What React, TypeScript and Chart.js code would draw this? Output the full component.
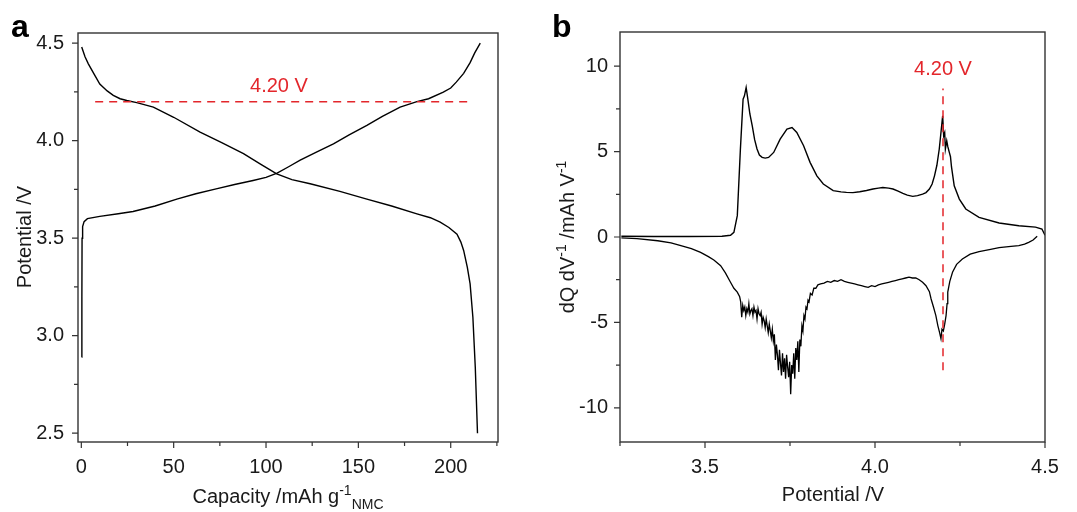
import React, { useEffect, useRef } from "react";
import { Chart, registerables } from "chart.js";
Chart.register(...registerables);

// ---------- Panel a: voltage profile ----------
const capCharge = [0.2, 0.3, 0.4, 0.7, 1.5, 3.3, 10, 20, 28, 40, 51.7, 62, 73, 83, 93, 100, 106, 112, 118.5, 127, 136.5, 145, 154.6, 163, 172.6, 181.7, 188, 196, 200, 203, 207, 210.5, 213, 216];
const vCharge = [2.89, 3.2, 3.5, 3.56, 3.585, 3.6, 3.612, 3.625, 3.637, 3.665, 3.7, 3.728, 3.753, 3.775, 3.796, 3.812, 3.833, 3.865, 3.9, 3.94, 3.984, 4.03, 4.078, 4.125, 4.172, 4.2, 4.215, 4.249, 4.27, 4.3, 4.345, 4.4, 4.45, 4.5];
const capDischarge = [0.2, 2, 3.8, 7, 10, 14, 17.3, 21, 24.6, 30, 39, 50, 64.3, 76, 87.8, 97, 105.8, 114, 123.9, 140, 154.6, 168, 181.7, 189, 194.3, 199, 203.4, 205.5, 207, 209, 210.5, 212, 213.3, 214.5];
const vDischarge = [4.48, 4.43, 4.394, 4.34, 4.29, 4.255, 4.232, 4.215, 4.206, 4.195, 4.172, 4.12, 4.044, 3.99, 3.933, 3.88, 3.83, 3.8, 3.779, 3.74, 3.7, 3.665, 3.625, 3.605, 3.582, 3.555, 3.52, 3.48, 3.437, 3.35, 3.266, 3.095, 2.838, 2.5];

// ---------- Panel b: dQ/dV ----------
const potCharge = [3.254, 3.35, 3.45, 3.55, 3.575, 3.585, 3.595, 3.604, 3.612, 3.616, 3.621, 3.626, 3.632, 3.639, 3.646, 3.653, 3.66, 3.668, 3.677, 3.687, 3.702, 3.721, 3.741, 3.756, 3.77, 3.79, 3.809, 3.829, 3.848, 3.877, 3.9, 3.916, 3.935, 3.955, 3.975, 3.994, 4.01, 4.023, 4.04, 4.053, 4.068, 4.082, 4.095, 4.111, 4.125, 4.14, 4.15, 4.16, 4.168, 4.175, 4.182, 4.189, 4.194, 4.199, 4.202, 4.205, 4.207, 4.211, 4.214, 4.218, 4.222, 4.225, 4.233, 4.248, 4.267, 4.306, 4.365, 4.423, 4.472, 4.491, 4.5];
const dqCharge = [0.04, 0.03, 0.03, 0.04, 0.1, 0.27, 1.25, 5.1, 8.07, 8.26, 8.75, 8.07, 7.2, 6.5, 5.7, 5.15, 4.8, 4.66, 4.62, 4.66, 4.95, 5.73, 6.32, 6.41, 6.12, 5.34, 4.37, 3.58, 3.1, 2.71, 2.64, 2.61, 2.6, 2.65, 2.72, 2.81, 2.86, 2.9, 2.86, 2.81, 2.68, 2.55, 2.45, 2.38, 2.42, 2.51, 2.6, 2.81, 3.1, 3.58, 4.2, 5.15, 6.12, 7.09, 5.92, 6.1, 5.15, 5.63, 5.3, 5.0, 4.7, 4.1, 3.0, 2.22, 1.64, 1.15, 0.82, 0.66, 0.58, 0.47, 0.1];
const potDischarge = [3.254, 3.3, 3.361, 3.4, 3.429, 3.46, 3.487, 3.51, 3.526, 3.546, 3.56, 3.575, 3.585, 3.595, 3.602,
  3.605, 3.608, 3.611, 3.614, 3.617, 3.62, 3.623, 3.626, 3.629, 3.632, 3.635, 3.638, 3.641, 3.644, 3.647, 3.65, 3.653, 3.656, 3.659, 3.662, 3.665, 3.668, 3.671, 3.674, 3.677, 3.68, 3.683, 3.686, 3.689, 3.692, 3.695, 3.698, 3.701, 3.704, 3.707, 3.71, 3.713, 3.716, 3.719, 3.722, 3.725, 3.728, 3.731, 3.734, 3.737, 3.74, 3.743, 3.746, 3.749, 3.752, 3.755, 3.758, 3.761, 3.764, 3.767, 3.77, 3.773, 3.776, 3.779, 3.782, 3.785, 3.788, 3.791, 3.794, 3.797, 3.8, 3.803, 3.806, 3.81, 3.815, 3.82, 3.826, 3.832, 3.84,
  3.85, 3.86, 3.87, 3.88, 3.89, 3.9, 3.91, 3.92, 3.93, 3.94, 3.95, 3.96, 3.97, 3.98, 3.99, 4.0, 4.01, 4.02, 4.03, 4.04, 4.05, 4.06, 4.07, 4.08, 4.09, 4.1, 4.11, 4.12, 4.13, 4.14, 4.15, 4.16, 4.165, 4.172, 4.179, 4.185, 4.19, 4.194, 4.197, 4.201, 4.205, 4.209, 4.212, 4.214, 4.22, 4.228, 4.24, 4.257, 4.28, 4.306, 4.34, 4.365, 4.4, 4.423, 4.44, 4.452, 4.465, 4.477];
const dqDischarge = [-0.05, -0.1, -0.22, -0.35, -0.51, -0.68, -0.9, -1.15, -1.35, -1.68, -2.1, -2.65, -3.0, -3.23, -3.5,
  -3.8, -4.7, -4.0, -4.3, -4.1, -4.6, -4.2, -4.4, -3.9, -4.5, -4.3, -4.2, -4.6, -4.1, -4.4, -4.3, -4.8, -4.2, -4.5, -4.6, -4.4, -5.1, -4.7, -4.9, -5.3, -4.8, -5.2, -5.6, -5.1, -5.5, -5.9, -5.4, -6.1, -5.7, -7.2, -6.3, -6.9, -7.8, -6.6, -7.4, -8.1, -6.8, -7.9, -7.1, -8.3, -6.9, -7.6, -8.2, -7.3, -9.2, -7.5, -8.0, -6.8, -8.3, -6.5, -7.2, -6.1, -7.9, -6.0, -6.4, -5.2, -5.5, -4.6, -4.8, -4.1, -4.2, -3.7, -3.8, -3.3, -3.4, -3.0, -3.0, -2.8, -2.75,
  -2.7, -2.6, -2.65, -2.55, -2.6, -2.5, -2.6, -2.65, -2.7, -2.75, -2.8, -2.85, -2.9, -2.95, -2.85, -2.9, -2.8, -2.75, -2.7, -2.65, -2.6, -2.55, -2.5, -2.45, -2.4, -2.35, -2.4, -2.4, -2.5, -2.65, -2.85, -3.2, -3.63, -4.1, -4.6, -5.2, -5.6, -5.96, -5.4, -5.5, -5.1, -4.6, -3.9, -3.23, -2.6, -2.06, -1.6, -1.29, -1.0, -0.85, -0.72, -0.62, -0.55, -0.5, -0.42, -0.31, -0.18, 0.04];

// ---------- ticks & annotations ----------
const aXTicks = [0, 50, 100, 150, 200];
const aXMinor = [25, 75, 125, 175, 225];
const aYTicks = [2.5, 3.0, 3.5, 4.0, 4.5];
const aYMinor = [2.75, 3.25, 3.75, 4.25];
const bXTicks = [3.5, 4.0, 4.5];
const bXMinor = [3.25, 3.75, 4.25];
const bYTicks = [-10, -5, 0, 5, 10];
const bYMinor = [-7.5, -2.5, 2.5, 7.5];
const cutoffV = 4.2;
const cutoffLabel = "4.20 V";
const aCutoffCap = [7.5, 210];
const bCutoffDq = [-7.8, 8.7];

const FONT = 'Arial, "Liberation Sans", sans-serif';
const RED = "#e3262b";
const FRAME = "#333333";
const TEXT = "#1a1a1a";

type Part = { t: string; s: number };

function drawRich(ctx: CanvasRenderingContext2D, parts: Part[], x: number, y: number, rot: number, size: number) {
  ctx.save();
  ctx.translate(x, y);
  ctx.rotate(rot);
  ctx.fillStyle = TEXT;
  ctx.textAlign = "left";
  ctx.textBaseline = "alphabetic";
  const fontFor = (p: Part) => `${p.s ? Math.round(size * 0.68) : size}px ${FONT}`;
  const widths = parts.map((p) => {
    ctx.font = fontFor(p);
    return ctx.measureText(p.t).width;
  });
  const total = widths.reduce((a, b) => a + b, 0);
  let cx = -total / 2;
  parts.forEach((p, i) => {
    ctx.font = fontFor(p);
    const dy = p.s === 1 ? -size * 0.42 : p.s === -1 ? size * 0.28 : 0;
    ctx.fillText(p.t, cx, dy);
    cx += widths[i];
  });
  ctx.restore();
}

type PanelCfg = {
  letter: string;
  letterX: number;
  xTicks: number[]; xMinor: number[]; yTicks: number[]; yMinor: number[];
  xTitle: Part[]; yTitle: Part[];
  xTitlePos: [number, number]; yTitlePos: [number, number];
  label: { x: number; y: number };
};

function panelPlugin(cfg: PanelCfg) {
  return {
    id: "panel" + cfg.letter,
    afterDraw(chart: any) {
      const ctx: CanvasRenderingContext2D = chart.ctx;
      const ca = chart.chartArea;
      const xs = chart.scales.x;
      const ys = chart.scales.y;
      ctx.save();
      ctx.strokeStyle = FRAME;
      ctx.lineWidth = 1.4;
      ctx.strokeRect(ca.left, ca.top, ca.right - ca.left, ca.bottom - ca.top);
      ctx.lineWidth = 1.2;
      ctx.beginPath();
      cfg.xTicks.forEach((v) => { const p = xs.getPixelForValue(v); ctx.moveTo(p, ca.bottom); ctx.lineTo(p, ca.bottom + 6); });
      cfg.xMinor.forEach((v) => { const p = xs.getPixelForValue(v); ctx.moveTo(p, ca.bottom); ctx.lineTo(p, ca.bottom + 4); });
      cfg.yTicks.forEach((v) => { const p = ys.getPixelForValue(v); ctx.moveTo(ca.left, p); ctx.lineTo(ca.left - 6, p); });
      cfg.yMinor.forEach((v) => { const p = ys.getPixelForValue(v); ctx.moveTo(ca.left, p); ctx.lineTo(ca.left - 4, p); });
      ctx.stroke();
      // panel letter
      ctx.fillStyle = "#000";
      ctx.font = `bold 32px ${FONT}`;
      ctx.textAlign = "left";
      ctx.textBaseline = "alphabetic";
      ctx.fillText(cfg.letter, cfg.letterX, 37);
      // annotation
      ctx.fillStyle = RED;
      ctx.font = `20px ${FONT}`;
      ctx.textAlign = "center";
      ctx.textBaseline = "middle";
      ctx.fillText(cutoffLabel, xs.getPixelForValue(cfg.label.x), ys.getPixelForValue(cfg.label.y));
      ctx.restore();
      drawRich(ctx, cfg.xTitle, cfg.xTitlePos[0], cfg.xTitlePos[1], 0, 20);
      drawRich(ctx, cfg.yTitle, cfg.yTitlePos[0], cfg.yTitlePos[1], -Math.PI / 2, 20);
    },
  };
}

function makeScale(min: number, max: number, ticks: number[], fmt: (v: number) => string, isY: boolean, size: number, pad: number) {
  return {
    type: "linear",
    min, max,
    grid: { display: false, drawTicks: false },
    border: { display: false },
    ticks: {
      font: { family: FONT, size: 20 },
      color: TEXT,
      padding: pad,
      autoSkip: false,
      maxRotation: 0,
      includeBounds: false,
      callback: (v: any) => fmt(Number(v)),
    },
    afterBuildTicks: (s: any) => { s.ticks = ticks.map((v) => ({ value: v })); },
    afterFit: (s: any) => { if (isY) s.width = size; else s.height = size; },
  };
}

const pts = (xs: number[], ys: number[]) => xs.map((x, i) => ({ x, y: ys[i] }));

function useChart(ref: React.RefObject<HTMLCanvasElement>, build: () => any) {
  useEffect(() => {
    if (!ref.current) return;
    const c = new Chart(ref.current, build());
    return () => c.destroy();
  }, []);
}

const lineDs = (data: any[], color: string, width: number, dash: number[] = []) => ({
  data, showLine: true, borderColor: color, borderWidth: width, borderDash: dash,
  pointRadius: 0, pointHoverRadius: 0, fill: false, tension: 0,
});

export default function App() {
  const refA = useRef<HTMLCanvasElement>(null);
  const refB = useRef<HTMLCanvasElement>(null);

  useChart(refA, () => ({
    type: "scatter",
    data: {
      datasets: [
        lineDs(aCutoffCap.map((c) => ({ x: c, y: cutoffV })), RED, 1.5, [8, 6]),
        lineDs(pts(capCharge, vCharge), "#000", 1.4),
        lineDs(pts(capDischarge, vDischarge), "#000", 1.4),
      ],
    },
    options: {
      animation: false, responsive: false, devicePixelRatio: 1,
      layout: { padding: { top: 33, right: 42, left: 0, bottom: 0 } },
      plugins: { legend: { display: false }, tooltip: { enabled: false } },
      scales: {
        x: makeScale(-1.8, 225.6, aXTicks, (v) => String(v), false, 70, 13),
        y: makeScale(2.455, 4.552, aYTicks, (v) => v.toFixed(1), true, 78, 14),
      },
    },
    plugins: [panelPlugin({
      letter: "a", letterX: 11,
      xTicks: aXTicks, xMinor: aXMinor, yTicks: aYTicks, yMinor: aYMinor,
      xTitle: [{ t: "Capacity /mAh g", s: 0 }, { t: "-1", s: 1 }, { t: "NMC", s: -1 }],
      yTitle: [{ t: "Potential /V", s: 0 }],
      xTitlePos: [288, 503], yTitlePos: [31, 237],
      label: { x: 107, y: 4.28 },
    })],
  }));

  useChart(refB, () => ({
    type: "scatter",
    data: {
      datasets: [
        lineDs(bCutoffDq.map((d) => ({ x: cutoffV, y: d })), RED, 1.5, [8, 6]),
        lineDs(pts(potCharge, dqCharge), "#000", 1.4),
        lineDs(pts(potDischarge, dqDischarge), "#000", 1.3),
      ],
    },
    options: {
      animation: false, responsive: false, devicePixelRatio: 1,
      layout: { padding: { top: 32, right: 32, left: 0, bottom: 0 } },
      plugins: { legend: { display: false }, tooltip: { enabled: false } },
      scales: {
        x: makeScale(3.25, 4.5, bXTicks, (v) => v.toFixed(1), false, 70, 13),
        y: makeScale(-12, 12, bYTicks, (v) => String(v), true, 80, 12),
      },
    },
    plugins: [panelPlugin({
      letter: "b", letterX: 12,
      xTicks: bXTicks, xMinor: bXMinor, yTicks: bYTicks, yMinor: bYMinor,
      xTitle: [{ t: "Potential /V", s: 0 }],
      yTitle: [{ t: "dQ dV", s: 0 }, { t: "-1", s: 1 }, { t: " /mAh V", s: 0 }, { t: "-1", s: 1 }],
      xTitlePos: [293, 501], yTitlePos: [34, 237],
      label: { x: 4.2, y: 9.8 },
    })],
  }));

  return (
    <div style={{ position: "absolute", left: 0, top: 0, width: 1077, height: 512, background: "#fff" }}>
      <canvas ref={refA} width={540} height={512} style={{ position: "absolute", left: 0, top: 0, width: 540, height: 512 }} />
      <canvas ref={refB} width={537} height={512} style={{ position: "absolute", left: 540, top: 0, width: 537, height: 512 }} />
    </div>
  );
}
